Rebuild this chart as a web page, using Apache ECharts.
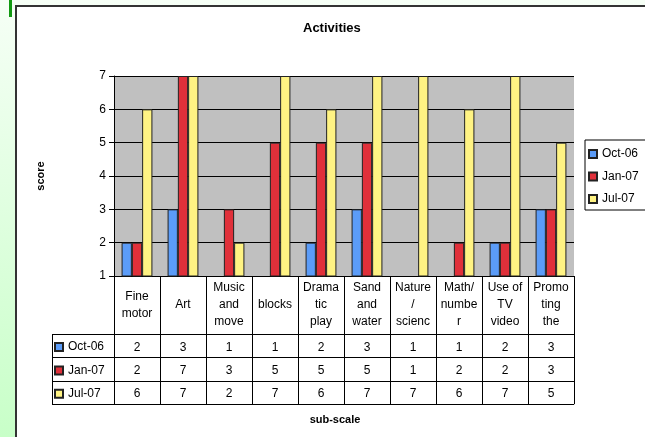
<!DOCTYPE html>
<html>
<head>
<meta charset="utf-8">
<script src="https://cdn.jsdelivr.net/npm/echarts@6/dist/echarts.min.js"></script>
<style>
  html, body { margin: 0; padding: 0; }
  body {
    width: 645px; height: 437px; position: relative; overflow: hidden;
    background: linear-gradient(to bottom, #f6fff6, #c8ffc8);
  }
  .frame {
    position: absolute; left: 15px; top: 5px; right: -5px; bottom: -5px;
    background: #fff; border-left: 2px solid #333; border-top: 2px solid #333;
  }
  .mark { position: absolute; left: 9px; top: 0; width: 3px; height: 17px; background: #119911; }
  #chart { position: absolute; left: 0; top: 0; width: 645px; height: 437px; }
</style>
</head>
<body>
<div class="frame"></div>
<div class="mark"></div>
<div id="chart"></div>
<script>
// sub-scales as they appear in the table header
const categories = ['Fine\nmotor', 'Art', 'Music\nand\nmove', 'blocks', 'Drama\ntic\nplay',
  'Sand\nand\nwater', 'Nature\n/\nscienc', 'Math/\nnumbe\nr', 'Use of\nTV\nvideo', 'Promo\nting\nthe']
const seriesNames = ['Oct-06', 'Jan-07', 'Jul-07']
const oct06 = [2, 3, 1, 1, 2, 3, 1, 1, 2, 3]
const jan07 = [2, 7, 3, 5, 5, 5, 1, 2, 2, 3]
const jul07 = [6, 7, 2, 7, 6, 7, 7, 6, 7, 5]
const yTicks = [1, 2, 3, 4, 5, 6, 7]

const seriesData = [oct06, jan07, jul07]
const colors = ['#5b9cf8', '#e0303a', '#fff383']

const headerH = 58
const rowH = 23.4
const font = 'Liberation Sans, Arial, sans-serif'

const chart = echarts.init(document.getElementById('chart'))

const valueAxes = seriesData.map((vals, i) => ({
  type: 'category',
  gridIndex: 0,
  position: 'bottom',
  data: vals.map(String),
  offset: headerH + rowH * (i + 0.5) + 1.5,
  axisLine: { show: false },
  axisTick: { show: false },
  axisLabel: {
    interval: 0, margin: 0, verticalAlign: 'middle',
    fontSize: 12, color: '#000', fontFamily: font
  }
}))

const legendBase = {
  orient: 'vertical',
  selectedMode: false,
  icon: 'rect',
  itemWidth: 8,
  itemHeight: 8,
  textStyle: { fontSize: 12, color: '#000', fontFamily: font },
  data: seriesNames
}

chart.setOption({
  animation: false,
  textStyle: { fontFamily: font },
  title: {
    text: 'Activities',
    left: 303,
    top: 22,
    padding: 0,
    textStyle: { fontSize: 13, fontWeight: 'bold', color: '#000', fontFamily: font }
  },
  legend: [
    Object.assign({}, legendBase, {
      left: 585, top: 140,
      borderColor: '#000', borderWidth: 1,
      padding: [8, 30, 5, 3], itemGap: 10.5
    }),
    Object.assign({}, legendBase, {
      left: 54, top: 341, padding: 0, itemGap: 11.4
    })
  ],
  grid: {
    left: 114, right: 71, top: 76, bottom: 161,
    show: true, backgroundColor: '#c0c0c0', borderWidth: 0
  },
  xAxis: [{
    type: 'category',
    data: categories,
    name: 'sub-scale',
    nameLocation: 'middle',
    nameGap: 138,
    nameTextStyle: { fontSize: 11, fontWeight: 'bold', color: '#000', padding: [0, 18, 0, 0] },
    axisLine: { lineStyle: { color: '#000', width: 1 } },
    axisTick: { show: false },
    axisLabel: {
      interval: 0, margin: headerH / 2, verticalAlign: 'middle',
      lineHeight: 17, fontSize: 12, color: '#000', fontFamily: font
    }
  }].concat(valueAxes),
  yAxis: {
    type: 'value',
    min: yTicks[0],
    max: yTicks[yTicks.length - 1],
    interval: 1,
    name: 'score',
    nameLocation: 'middle',
    nameGap: 68,
    nameRotate: 90,
    nameTextStyle: { fontSize: 11, fontWeight: 'bold', color: '#000' },
    axisLine: { show: true, lineStyle: { color: '#000' } },
    axisTick: { show: true, length: 5, lineStyle: { color: '#000' } },
    axisLabel: { margin: 8, fontSize: 12, color: '#000', fontFamily: font },
    splitLine: { lineStyle: { color: '#000', width: 1 } }
  },
  series: seriesNames.map((name, i) => ({
    name: name,
    type: 'bar',
    data: seriesData[i],
    barGap: '0%',
    barCategoryGap: '33%',
    itemStyle: { color: colors[i], borderColor: '#222', borderWidth: 1 }
  }))
})

// table rules, positioned from the axes
const baseY = chart.convertToPixel({ yAxisIndex: 0 }, yTicks[0])
const c0 = chart.convertToPixel({ xAxisIndex: 0 }, 0)
const c1 = chart.convertToPixel({ xAxisIndex: 0 }, 1)
const band = c1 - c0
const tableLeft = 52
const tableBottom = baseY + headerH + rowH * seriesData.length
const gridRight = chart.convertToPixel({ xAxisIndex: 0 }, categories.length - 1) + band / 2
const rule = (x1, y1, x2, y2) => ({
  type: 'line',
  shape: { x1: x1, y1: y1, x2: x2, y2: y2 },
  style: { stroke: '#000', lineWidth: 1 }
})
const lines = []
for (let k = 0; k <= seriesData.length; k++) {
  const y = Math.round(baseY + headerH + rowH * k) + 0.5
  lines.push(rule(tableLeft, y, gridRight, y))
}
for (let i = 0; i <= categories.length; i++) {
  const x = Math.round(c0 - band / 2 + band * i) + 0.5
  lines.push(rule(x, baseY, x, tableBottom))
}
lines.push(rule(tableLeft + 0.5, baseY + headerH, tableLeft + 0.5, tableBottom))
chart.setOption({ graphic: lines })
</script>
</body>
</html>
